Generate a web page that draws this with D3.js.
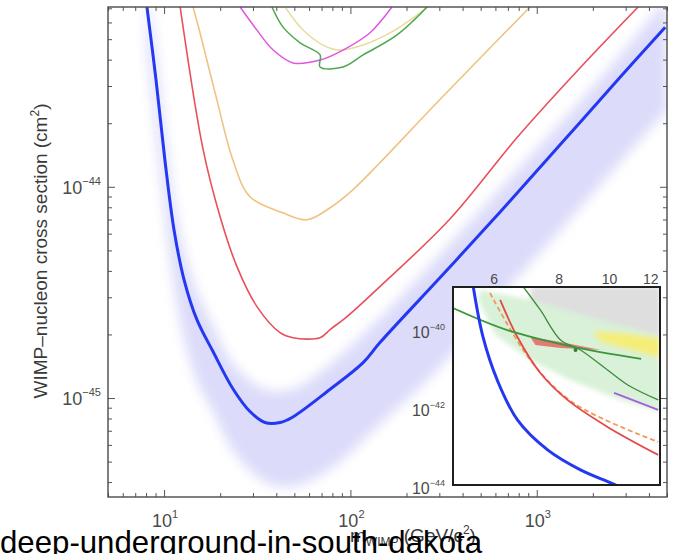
<!DOCTYPE html>
<html>
<head>
<meta charset="utf-8">
<script src="https://cdn.jsdelivr.net/npm/d3@7"></script>
<style>
  html, body { margin: 0; padding: 0; background: #fff; }
  svg { display: block; }
  text { font-family: "Liberation Sans", Arial, "DejaVu Sans", sans-serif; }
</style>
</head>
<body>
<svg id="chart" width="677" height="554"></svg>
<script>
// ---------- main panel data: WIMP mass (GeV/c^2), cross section (cm^2) ----------
const blueMass  = [8.09, 9.05, 10.1, 11.3, 12.8, 15.0, 18.3, 23.5, 28.9, 34.8, 41.9, 48.6, 77.8, 117, 144, 303, 636, 1334, 2800, 4890];
const blueSigma = [7.1e-44, 3.21e-44, 1.34e-44, 6.27e-45, 3.63e-45, 2.35e-45, 1.66e-45, 1.10e-45, 8.63e-46, 7.66e-46, 7.66e-46, 8.09e-46, 1.10e-45, 1.47e-45, 1.83e-45, 3.72e-45, 7.6e-45, 1.58e-44, 3.3e-44, 5.7e-44];

// expected-sensitivity band around the projected limit
const bandMass = [8.09, 9.05, 10.1, 11.3, 12.8, 15.0, 18.3, 23.5, 34.8, 48.6, 77.8, 144, 303, 636, 1334, 2800, 5000];
const bandLow  = [4.5e-44, 1.8e-44, 7.4e-45, 3.4e-45, 1.9e-45, 1.2e-45, 8.6e-46, 5.6e-46, 4.0e-46, 3.8e-46, 4.6e-46, 7.5e-46, 1.4e-45, 3.0e-45, 6.2e-45, 1.3e-44, 2.3e-44];
const bandHigh = [9.5e-44, 4.4e-44, 1.85e-44, 8.6e-45, 5.0e-45, 3.2e-45, 2.2e-45, 1.45e-45, 1.1e-45, 1.1e-45, 1.45e-45, 2.4e-45, 4.8e-45, 9.8e-45, 2.0e-44, 4.2e-44, 7.8e-44];

const redMass  = [12.2, 16.2, 20.0, 24.6, 31.5, 41.9, 49.2, 68.7, 77.8, 95.9, 144, 343, 784, 1710, 3500];
const redSigma = [7.1e-44, 1.5e-44, 7.2e-45, 4.19e-45, 2.71e-45, 2.04e-45, 1.93e-45, 1.93e-45, 2.11e-45, 2.43e-45, 3.37e-45, 7.06e-45, 1.71e-44, 3.66e-44, 7.1e-44];

const tanMass  = [14.3, 15.6, 19.2, 23.4, 28.9, 43.5, 58.5, 77.8, 103, 144, 267, 497, 920];
const tanSigma = [7.1e-44, 5.35e-44, 2.58e-44, 1.34e-44, 8.97e-45, 7.53e-45, 6.98e-45, 7.96e-45, 9.68e-45, 1.3e-44, 2.31e-44, 4.07e-44, 7.1e-44];

const magentaMass  = [25.6, 31.5, 38.5, 49.2, 68.7, 91.2, 127, 167];
const magentaSigma = [7.1e-44, 5.52e-44, 4.44e-44, 3.86e-44, 3.98e-44, 4.44e-44, 5.35e-44, 7.1e-44];

const greenMass  = [37.9, 43.5, 53.7, 68.7, 68.7, 91.2, 117, 178, 258];
const greenSigma = [7.1e-44, 5.7e-44, 4.8e-44, 4.21e-44, 3.69e-44, 3.69e-44, 4.21e-44, 5.24e-44, 7.1e-44];

const yellowMass  = [44.6, 55.7, 71.3, 87.9, 117, 163, 228, 258];
const yellowSigma = [7.1e-44, 5.52e-44, 4.69e-44, 4.44e-44, 4.69e-44, 5.35e-44, 6.5e-44, 7.1e-44];

// ---------- inset (low-mass region) ----------
const inBlueMass  = [5.47, 5.71, 6.08, 6.65, 7.60, 8.79, 10.05, 10.74];
const inBlueSigma = [1.35e-39, 7.05e-41, 5.56e-42, 5.25e-43, 8.93e-44, 2.74e-44, 1.27e-44, 8.4e-45];

const inGreenAMass  = [5.0, 6.36, 8.52, 11.5];
const inGreenASigma = [3.91e-40, 1.06e-40, 3.91e-41, 1.92e-41];

const inGreenBMass  = [6.83, 7.36, 8.05, 8.79, 9.91, 10.84, 12.4];
const inGreenBSigma = [1.35e-39, 3.47e-40, 5.9e-41, 3.27e-41, 1.0e-41, 4.14e-42, 1.71e-42];

const inRedMass  = [6.16, 6.65, 7.36, 8.30, 9.91, 12.4];
const inRedSigma = [6.27e-40, 7.05e-41, 8.41e-42, 1.71e-42, 3.47e-43, 6.64e-44];

const inOrangeMass  = [5.89, 7.04, 8.52, 12.4];
const inOrangeSigma = [9.46e-40, 1.81e-41, 1.43e-42, 1.43e-43];

const inPurpleMass  = [10.2, 12.4];
const inPurpleSigma = [2.58e-42, 9.46e-43];

const inRegionGreenMass  = [5.64, 7.04, 9.61, 12.5, 12.5, 10.5, 8.41, 7.04, 6.03, 5.59];
const inRegionGreenSigma = [1.13e-39, 6.27e-40, 1.92e-40, 7.92e-41, 8.41e-43, 1.71e-42, 5.56e-42, 1.81e-41, 7.92e-41, 6.27e-40];

const inRegionGrayMass  = [7.04, 12.5, 12.5, 9.61, 8.05, 7.04];
const inRegionGraySigma = [1.35e-39, 1.35e-39, 6.64e-41, 1.06e-40, 1.71e-40, 6.27e-40];

const inRegionYellowMass  = [9.27, 10.74, 12.5, 12.5, 10.98, 9.61];
const inRegionYellowSigma = [1.0e-40, 8.93e-41, 6.64e-41, 2.04e-41, 3.27e-41, 5.25e-41];

const inRegionRedMass  = [7.04, 8.05, 9.61, 8.05, 7.2];
const inRegionRedSigma = [7.05e-41, 5.25e-41, 3.27e-41, 3.68e-41, 4.4e-41];

const inPointMass = [8.6];
const inPointSigma = [3.27e-41];

// ---------- ticks ----------
const xMajorExp = [1, 2, 3];
const yMajorExp = [-44, -45];
const insetXTicks = [6, 8, 10, 12];
const insetYMajorExp = [-40, -42, -44];

const caption = "deep-underground-in-south-dakota";

// ====================================================================
const svg = d3.select("#chart");
const L = 108, R = 667, T = 7, B = 497;
const x = d3.scaleLog().domain([5, 5000]).range([L, R]);
const y = d3.scaleLog().domain([3.4e-46, 7.1e-44]).range([B, T]);

const IL = 453, IR = 660, IT = 287, IB = 485;
const ix = d3.scaleLog().domain([5, 12.5]).range([IL, IR]);
const iy = d3.scaleLog().domain([1.12e-44, 1.35e-39]).range([IB, IT]);

const zip = (a, b) => a.map((v, i) => [v, b[i]]);

const defs = svg.append("defs");
defs.append("clipPath").attr("id", "clipMain").append("rect")
  .attr("x", L).attr("y", T).attr("width", R - L).attr("height", B - T);
defs.append("clipPath").attr("id", "clipInset").append("rect")
  .attr("x", IL).attr("y", IT).attr("width", IR - IL).attr("height", IB - IT);
defs.append("filter").attr("id", "soft").attr("x", "-20%").attr("y", "-20%").attr("width", "140%").attr("height", "140%")
  .append("feGaussianBlur").attr("stdDeviation", 6);
defs.append("filter").attr("id", "softS").attr("x", "-20%").attr("y", "-20%").attr("width", "140%").attr("height", "140%")
  .append("feGaussianBlur").attr("stdDeviation", 2.5);

// ---------- main plot ----------
const gMain = svg.append("g").attr("clip-path", "url(#clipMain)");

const band = d3.area()
  .x(d => x(d[0])).y0(d => y(d[1])).y1(d => y(d[2]))
  .curve(d3.curveCatmullRom.alpha(0.5));
gMain.append("g").attr("filter", "url(#soft)")
  .append("path")
  .attr("d", band(bandMass.map((m, i) => [m, bandLow[i], bandHigh[i]])))
  .attr("fill", "#dcdcfa");

const line = d3.line().x(d => x(d[0])).y(d => y(d[1])).curve(d3.curveCatmullRom.alpha(0.5));

const mainCurves = [
  { m: yellowMass,  s: yellowSigma,  c: "#e6dc98", w: 1.4 },
  { m: tanMass,     s: tanSigma,     c: "#f0c283", w: 1.6 },
  { m: magentaMass, s: magentaSigma, c: "#e055e0", w: 1.5 },
  { m: greenMass,   s: greenSigma,   c: "#4ea64e", w: 1.5 },
  { m: redMass,     s: redSigma,     c: "#e8505c", w: 1.6 },
  { m: blueMass,    s: blueSigma,    c: "#2438f2", w: 3.0 }
];
mainCurves.forEach(cv => {
  gMain.append("path").attr("d", line(zip(cv.m, cv.s)))
    .attr("fill", "none").attr("stroke", cv.c).attr("stroke-width", cv.w)
    .attr("stroke-linejoin", "round");
});

// ---------- main axes (ticks on all four sides, pointing inward) ----------
const xMinor = [], yMinor = [];
[1, 10, 100, 1000].forEach(d => { for (let k = 2; k <= 9; k++) { const v = d * k; if (v >= 5 && v <= 5000) xMinor.push(v); } });
[1e-46, 1e-45, 1e-44].forEach(d => { for (let k = 2; k <= 9; k++) { const v = d * k; if (v >= 3.4e-46 && v <= 7.1e-44) yMinor.push(v); } });
const xMajor = xMajorExp.map(e => Math.pow(10, e));
const yMajor = yMajorExp.map(e => Math.pow(10, e));

function tickAxis(axisFn, scale, values, size, transform) {
  const g = svg.append("g").attr("transform", transform)
    .call(axisFn(scale).tickValues(values).tickSize(size).tickFormat(""));
  g.select(".domain").remove();
  g.selectAll(".tick line").attr("stroke", "#555").attr("stroke-width", 1);
  return g;
}
tickAxis(d3.axisBottom, x, xMajor, -7, `translate(0,${B})`);
tickAxis(d3.axisBottom, x, xMinor, -4, `translate(0,${B})`);
tickAxis(d3.axisTop, x, xMajor, -7, `translate(0,${T})`);
tickAxis(d3.axisTop, x, xMinor, -4, `translate(0,${T})`);
tickAxis(d3.axisLeft, y, yMajor, -7, `translate(${L},0)`);
tickAxis(d3.axisLeft, y, yMinor, -4, `translate(${L},0)`);
tickAxis(d3.axisRight, y, yMajor, -7, `translate(${R},0)`);
tickAxis(d3.axisRight, y, yMinor, -4, `translate(${R},0)`);

svg.append("rect").attr("x", L).attr("y", T).attr("width", R - L).attr("height", B - T)
  .attr("fill", "none").attr("stroke", "#4a4a4a").attr("stroke-width", 1.4);

function powLabel(g, xPos, yPos, exp, anchor, base, sup, raise) {
  const t = g.append("text").attr("x", xPos).attr("y", yPos)
    .attr("text-anchor", anchor).attr("fill", "#4a4a4a");
  t.append("tspan").attr("font-size", base).text("10");
  t.append("tspan").attr("font-size", sup).attr("dy", -raise).text(exp < 0 ? "\u2212" + (-exp) : String(exp));
  return t;
}
const gLab = svg.append("g");
xMajorExp.forEach(e => powLabel(gLab, x(Math.pow(10, e)) + 1, 527, e, "middle", 18, 11, 9));
yMajorExp.forEach(e => powLabel(gLab, 101, y(Math.pow(10, e)) + 7, e, "end", 18, 11, 9));

// axis titles
const yt = svg.append("text")
  .attr("transform", `translate(47,251) rotate(-90)`)
  .attr("text-anchor", "middle").attr("fill", "#3a3a3a").attr("font-size", 19);
yt.append("tspan").text("WIMP\u2013nucleon cross section (cm");
yt.append("tspan").attr("font-size", 12).attr("dy", -8).text("2");
yt.append("tspan").attr("dy", 8).text(")");

const xt = svg.append("text").attr("x", 350).attr("y", 542).attr("fill", "#3a3a3a").attr("font-size", 19);
xt.append("tspan").text("m");
xt.append("tspan").attr("font-size", 12).attr("dy", 4).text("WIMP");
xt.append("tspan").attr("dy", -4).text(" (GeV/c");
xt.append("tspan").attr("font-size", 12).attr("dy", -8).text("2");
xt.append("tspan").attr("dy", 8).text(")");

// ---------- inset ----------
svg.append("rect").attr("x", IL).attr("y", IT).attr("width", IR - IL).attr("height", IB - IT).attr("fill", "#fff");
const gIn = svg.append("g").attr("clip-path", "url(#clipInset)");
const iline = d3.line().x(d => ix(d[0])).y(d => iy(d[1])).curve(d3.curveCatmullRom.alpha(0.5));
const ipoly = d3.line().x(d => ix(d[0])).y(d => iy(d[1])).curve(d3.curveLinearClosed);

const gSoft = gIn.append("g").attr("filter", "url(#softS)");
gSoft.append("path").attr("d", ipoly(zip(inRegionGrayMass, inRegionGraySigma))).attr("fill", "#dedede");
gSoft.append("path").attr("d", ipoly(zip(inRegionGreenMass, inRegionGreenSigma))).attr("fill", "#d8f1d8");
gSoft.append("path").attr("d", ipoly(zip(inRegionYellowMass, inRegionYellowSigma))).attr("fill", "#f4ee78");
gIn.append("path").attr("d", ipoly(zip(inRegionRedMass, inRegionRedSigma))).attr("fill", "#e86464").attr("opacity", 0.85);

const insetCurves = [
  { m: inPurpleMass,  s: inPurpleSigma,  c: "#a45ee0", w: 1.8 },
  { m: inOrangeMass,  s: inOrangeSigma,  c: "#f09a5a", w: 1.8, dash: "5,3" },
  { m: inRedMass,     s: inRedSigma,     c: "#e44848", w: 1.8 },
  { m: inGreenBMass,  s: inGreenBSigma,  c: "#3c8c3c", w: 1.3 },
  { m: inGreenAMass,  s: inGreenASigma,  c: "#3c963c", w: 1.8 },
  { m: inBlueMass,    s: inBlueSigma,    c: "#2438f2", w: 3.0 }
];
insetCurves.forEach(cv => {
  gIn.append("path").attr("d", iline(zip(cv.m, cv.s)))
    .attr("fill", "none").attr("stroke", cv.c).attr("stroke-width", cv.w)
    .attr("stroke-dasharray", cv.dash || null);
});
gIn.selectAll("circle.pt").data(zip(inPointMass, inPointSigma)).join("circle")
  .attr("cx", d => ix(d[0])).attr("cy", d => iy(d[1])).attr("r", 2).attr("fill", "#2f7f2f");

svg.append("rect").attr("x", IL).attr("y", IT).attr("width", IR - IL).attr("height", IB - IT)
  .attr("fill", "none").attr("stroke", "#1e1e1e").attr("stroke-width", 2);

const gInLab = svg.append("g");
insetXTicks.forEach(v => {
  gInLab.append("text").attr("x", ix(v)).attr("y", 284).attr("text-anchor", "middle")
    .attr("font-size", 14).attr("fill", "#4a4a4a").text(v);
});
insetYMajorExp.forEach(e => powLabel(gInLab, 445, iy(Math.pow(10, e)) + 7, e, "end", 16, 9, 8));

// ---------- caption ----------
svg.append("text").attr("x", 0).attr("y", 553).attr("font-size", 31.2).attr("fill", "#000")
  .text(caption);
</script>
</body>
</html>
